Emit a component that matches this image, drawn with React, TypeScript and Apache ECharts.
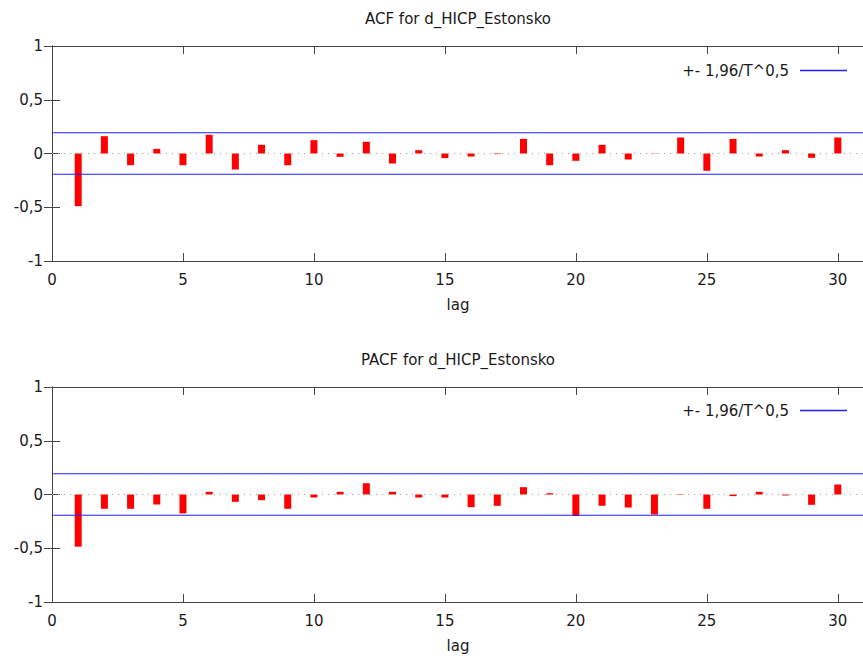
import React, { useEffect, useRef } from "react";
import * as echarts from "echarts";

const lags = [1, 2, 3, 4, 5, 6, 7, 8, 9, 10, 11, 12, 13, 14, 15, 16, 17, 18, 19, 20, 21, 22, 23, 24, 25, 26, 27, 28, 29, 30];
const acfValues = [-0.49, 0.161, -0.109, 0.043, -0.109, 0.174, -0.149, 0.081, -0.109, 0.124, -0.031, 0.109, -0.093, 0.031, -0.043, -0.028, -0.006, 0.136, -0.109, -0.068, 0.081, -0.056, 0.002, 0.149, -0.161, 0.136, -0.028, 0.031, -0.04, 0.149];
const pacfValues = [-0.485, -0.133, -0.133, -0.093, -0.176, 0.025, -0.068, -0.053, -0.133, -0.028, 0.025, 0.105, 0.025, -0.028, -0.028, -0.118, -0.105, 0.068, 0.012, -0.2, -0.105, -0.121, -0.186, 0.004, -0.133, -0.015, 0.025, -0.009, -0.096, 0.093];
const bandValue = 0.193;
const titles = ["ACF for d_HICP_Estonsko", "PACF for d_HICP_Estonsko"];
const bandName = "+- 1,96/T^0,5";
const xAxisName = "lag";
const xMin = 0;
const xMax = 31;

const FONT = "DejaVu Sans";
const TEXT = "#1a1a1a";
const AXIS = "#454545";
const BLUE = "#2020ff";

export default function App() {
  const ref = useRef<HTMLDivElement>(null);
  useEffect(() => {
    if (!ref.current) return;
    const chart = echarts.init(ref.current, null, { renderer: "svg" });
    const grids = [
      { left: 52, top: 46, width: 812, height: 215 },
      { left: 52, top: 387, width: 812, height: 215 },
    ];
    const fmtY = (v: number) => String(v).replace(".", ",");
    const xAxes: any[] = [];
    const yAxes: any[] = [];
    const series: any[] = [];
    const datasets = [acfValues, pacfValues];
    grids.forEach((_, gi) => {
      xAxes.push({
        type: "value", gridIndex: gi, min: xMin, max: xMax, interval: 5, position: "bottom",
        name: xAxisName, nameLocation: "middle", nameGap: 36,
        nameTextStyle: { fontFamily: FONT, fontSize: 15, color: TEXT },
        axisLine: { show: true, onZero: false, lineStyle: { color: AXIS, width: 1 } },
        axisTick: { show: true, inside: true, length: 8, lineStyle: { color: AXIS } },
        axisLabel: { fontFamily: FONT, fontSize: 15, color: TEXT, margin: 11,
          formatter: (v: number) => (v % 5 === 0 ? String(v) : "") },
        splitLine: { show: false },
      });
      xAxes.push({
        type: "value", gridIndex: gi, min: xMin, max: xMax, interval: 5, position: "top",
        axisLine: { show: true, onZero: false, lineStyle: { color: AXIS, width: 1 } },
        axisTick: { show: true, inside: true, length: 8, lineStyle: { color: AXIS } },
        axisLabel: { show: false },
        splitLine: { show: false },
      });
      yAxes.push({
        type: "value", gridIndex: gi, min: -1, max: 1, interval: 0.5, position: "left",
        axisLine: { show: true, lineStyle: { color: AXIS, width: 1 } },
        axisTick: { show: true, inside: true, length: 8, lineStyle: { color: AXIS } },
        axisLabel: { fontFamily: FONT, fontSize: 15, color: TEXT, margin: 9, formatter: fmtY },
        splitLine: { show: false },
      });
      yAxes.push({
        type: "value", gridIndex: gi, min: -1, max: 1, interval: 0.5, position: "right",
        axisLine: { show: true, lineStyle: { color: AXIS, width: 1 } },
        axisTick: { show: true, inside: true, length: 8, lineStyle: { color: AXIS } },
        axisLabel: { show: false },
        splitLine: { show: false },
      });
      const xi = gi * 2;
      const yi = gi * 2;
      series.push({
        type: "line", xAxisIndex: xi, yAxisIndex: yi, silent: true, symbol: "none",
        data: [[xMin, 0], [xMax, 0]],
        lineStyle: { color: "#a0a0a0", width: 1, type: [1, 5] },
      });
      series.push({
        type: "line", name: bandName, xAxisIndex: xi, yAxisIndex: yi, symbol: "none",
        data: [[xMin, bandValue], [xMax, bandValue]],
        lineStyle: { color: BLUE, width: 1.2 }, itemStyle: { color: BLUE },
      });
      series.push({
        type: "line", name: bandName, xAxisIndex: xi, yAxisIndex: yi, symbol: "none",
        data: [[xMin, -bandValue], [xMax, -bandValue]],
        lineStyle: { color: BLUE, width: 1.2 }, itemStyle: { color: BLUE },
      });
      series.push({
        type: "bar", xAxisIndex: xi, yAxisIndex: yi, barWidth: 7,
        data: lags.map((l, i) => [l, datasets[gi][i]]),
        itemStyle: { color: "#ff0000" },
      });
    });

    chart.setOption({
      animation: false,
      title: [
        { text: titles[0], left: 458, top: 11, textAlign: "center", padding: 0,
          textStyle: { fontFamily: FONT, fontSize: 15, fontWeight: "normal", color: TEXT } },
        { text: titles[1], left: 458, top: 352, textAlign: "center", padding: 0,
          textStyle: { fontFamily: FONT, fontSize: 15, fontWeight: "normal", color: TEXT } },
      ],
      legend: [
        { data: [bandName], right: 16, top: 63, align: "right", padding: 0, icon: "rect",
          itemWidth: 47, itemHeight: 1.5, selectedMode: false,
          textStyle: { fontFamily: FONT, fontSize: 15, color: TEXT, padding: [0, 6, 0, 0] } },
        { data: [bandName], right: 16, top: 403, align: "right", padding: 0, icon: "rect",
          itemWidth: 47, itemHeight: 1.5, selectedMode: false,
          textStyle: { fontFamily: FONT, fontSize: 15, color: TEXT, padding: [0, 6, 0, 0] } },
      ],
      grid: grids.map((g) => ({ ...g, show: false, containLabel: false, outerBoundsMode: "none" })),
      xAxis: xAxes,
      yAxis: yAxes,
      series,
    });
    return () => chart.dispose();
  }, []);
  return (
    <div
      ref={ref}
      style={{ position: "absolute", left: 0, top: 0, width: 863, height: 659, background: "#fff" }}
    />
  );
}
